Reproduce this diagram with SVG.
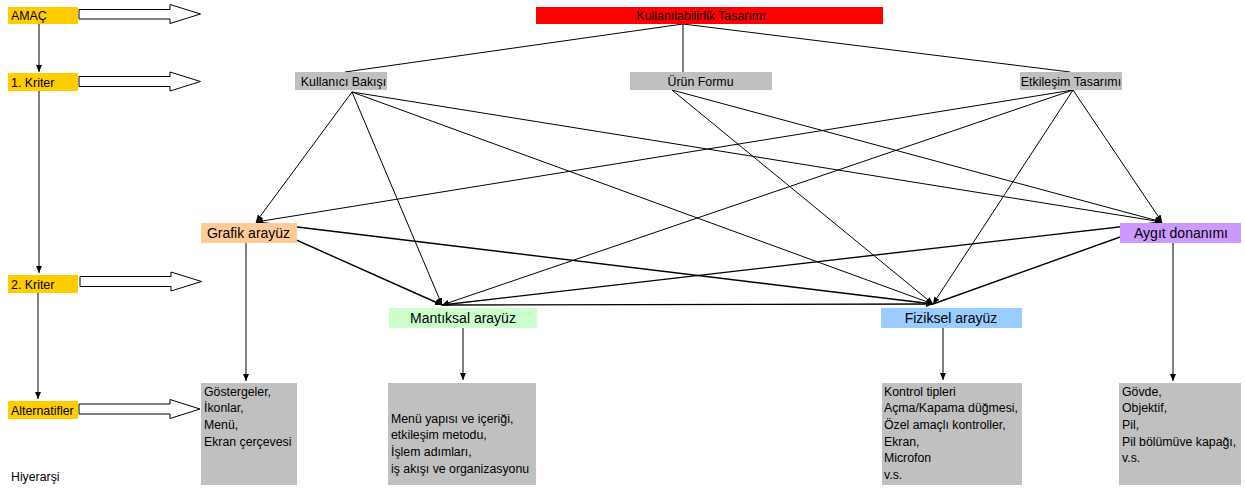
<svg xmlns="http://www.w3.org/2000/svg" width="1245" height="490" viewBox="0 0 1245 490">
<defs>
<style>
text{font-family:"Liberation Sans",Arial,sans-serif;fill:#000}
.s{font-size:12.4px}
.m{font-size:14px}
.b{font-size:12.3px}
.c{stroke:#000;stroke-width:1;fill:none;marker-end:url(#ah)}
.t{stroke:#000;stroke-width:1.4;fill:none;marker-end:url(#ah)}
.l{stroke:#000;stroke-width:1;fill:none}
.ha{fill:#fff;stroke:#000;stroke-width:1}
.lvl{fill:#FFCC00}
.gray{fill:#C0C0C0}
</style>
<marker id="ah" markerUnits="userSpaceOnUse" markerWidth="7" markerHeight="6" refX="7" refY="3" orient="auto">
<path d="M0,0 L7,3 L0,6 z" fill="#000"/>
</marker>
</defs>
<rect width="1245" height="490" fill="#fff"/>

<g id="connectors">
<line class="c" x1="39" y1="24" x2="39" y2="72"/>
<line class="c" x1="39" y1="91" x2="39" y2="273"/>
<line class="c" x1="38" y1="293" x2="38" y2="399"/>
<path class="ha" d="M79,9.5 H170 V4.5 L200.5,14 L170,23.5 V19 H79 Z"/>
<path class="ha" d="M79,76.5 H170 V72 L200.5,81.5 L170,91 V86.5 H79 Z"/>
<path class="ha" d="M80,276.5 H171 V272 L201.5,281.5 L171,291 V286.5 H80 Z"/>
<path class="ha" d="M79,404 H170 V399.5 L200,409 L170,418.5 V414 H79 Z"/>
<line class="l" x1="683" y1="24" x2="345" y2="72"/>
<line class="l" x1="683" y1="24" x2="683" y2="72"/>
<line class="l" x1="683" y1="24" x2="1070" y2="72"/>
<line class="c" x1="352" y1="92" x2="256" y2="222"/>
<line class="c" x1="352" y1="92" x2="442" y2="305"/>
<line class="c" x1="352" y1="92" x2="933" y2="304"/>
<line class="c" x1="352" y1="92" x2="1162" y2="222"/>
<line class="c" x1="672" y1="90" x2="933" y2="304"/>
<line class="c" x1="672" y1="90" x2="1162" y2="222"/>
<line class="c" x1="1073" y1="90" x2="256" y2="222"/>
<line class="c" x1="1073" y1="90" x2="442" y2="305"/>
<line class="c" x1="1073" y1="90" x2="933" y2="304"/>
<line class="c" x1="1073" y1="90" x2="1162" y2="222"/>
<line class="t" x1="256" y1="222" x2="442" y2="305"/>
<line class="t" x1="256" y1="222" x2="933" y2="304"/>
<line class="t" x1="442" y1="305" x2="933" y2="304"/>
<line class="t" x1="442" y1="305" x2="1162" y2="222"/>
<line class="t" x1="933" y1="304" x2="1162" y2="222"/>
<line class="c" x1="246" y1="243" x2="246" y2="381"/>
<line class="c" x1="463" y1="328" x2="463" y2="380"/>
<line class="c" x1="943" y1="328" x2="943" y2="380"/>
<line class="c" x1="1173" y1="243" x2="1173" y2="381"/>
</g>

<g id="amac"><rect class="lvl" x="8" y="7" width="70" height="17"/><text class="s" x="11" y="20">AMAÇ</text></g>
<g id="kriter1"><rect class="lvl" x="8" y="73" width="70" height="18"/><text class="s" x="11" y="86.5">1. Kriter</text></g>
<g id="kriter2"><rect class="lvl" x="8" y="275" width="70" height="18"/><text class="s" x="11" y="288.5">2. Kriter</text></g>
<g id="alternatifler"><rect class="lvl" x="8" y="401" width="70" height="18"/><text class="s" x="11" y="414.5">Alternatifler</text></g>
<g id="hiyerarsi"><text class="b" x="11" y="481">Hiyerarşi</text></g>

<g id="goal"><rect x="536" y="7" width="347" height="17" fill="#FF0000"/><text class="s" x="701" y="20" text-anchor="middle">Kullanılabilirlik Tasarımı</text></g>

<g id="kullanici-bakisi"><rect class="gray" x="295" y="72" width="92" height="18"/><text class="s" x="343.5" y="85.5" text-anchor="middle">Kullanıcı Bakışı</text></g>
<g id="urun-formu"><rect class="gray" x="630" y="72" width="142" height="18"/><text class="s" x="700.5" y="85.5" text-anchor="middle">Ürün Formu</text></g>
<g id="etkilesim-tasarimi"><rect class="gray" x="1020" y="72" width="102" height="18"/><text class="s" x="1071" y="85.5" text-anchor="middle">Etkileşim Tasarımı</text></g>

<g id="grafik-arayuz"><rect x="201" y="223" width="96" height="20" fill="#FFCC99"/><text class="m" x="248.5" y="238" text-anchor="middle">Grafik arayüz</text></g>
<g id="mantiksal-arayuz"><rect x="389" y="308" width="148" height="20" fill="#CCFFCC"/><text class="m" x="463" y="323" text-anchor="middle">Mantıksal arayüz</text></g>
<g id="fiziksel-arayuz"><rect x="881" y="308" width="141" height="20" fill="#99CCFF"/><text class="m" x="951" y="323" text-anchor="middle">Fiziksel arayüz</text></g>
<g id="aygit-donanimi"><rect x="1120" y="223" width="121" height="20" fill="#CC99FF"/><text class="m" x="1181" y="238" text-anchor="middle">Aygıt donanımı</text></g>

<g id="alt-grafik"><rect class="gray" x="201" y="383" width="96" height="102"/>
<text class="b" x="204"><tspan x="204" y="395.5">Göstergeler,</tspan><tspan x="204" y="412.2">İkonlar,</tspan><tspan x="204" y="428.9">Menü,</tspan><tspan x="204" y="445.6">Ekran çerçevesi</tspan></text></g>
<g id="alt-mantiksal"><rect class="gray" x="388" y="383" width="148" height="102"/>
<text class="b" x="391"><tspan x="391" y="422.5">Menü yapısı ve içeriği,</tspan><tspan x="391" y="439.2">etkileşim metodu,</tspan><tspan x="391" y="455.9">İşlem adımları,</tspan><tspan x="391" y="472.6">iş akışı ve organizasyonu</tspan></text></g>
<g id="alt-fiziksel"><rect class="gray" x="882" y="383" width="140" height="102"/>
<text class="b" x="884"><tspan x="884" y="395.5">Kontrol tipleri</tspan><tspan x="884" y="412.2">Açma/Kapama düğmesi,</tspan><tspan x="884" y="428.9">Özel amaçlı kontroller,</tspan><tspan x="884" y="445.6">Ekran,</tspan><tspan x="884" y="462.3">Microfon</tspan><tspan x="884" y="479">v.s.</tspan></text></g>
<g id="alt-aygit"><rect class="gray" x="1119" y="383" width="122" height="102"/>
<text class="b" x="1122"><tspan x="1122" y="395.5">Gövde,</tspan><tspan x="1122" y="412.2">Objektif,</tspan><tspan x="1122" y="428.9">Pil,</tspan><tspan x="1122" y="445.6">Pil bölümüve kapağı,</tspan><tspan x="1122" y="462.3">v.s.</tspan></text></g>
</svg>
